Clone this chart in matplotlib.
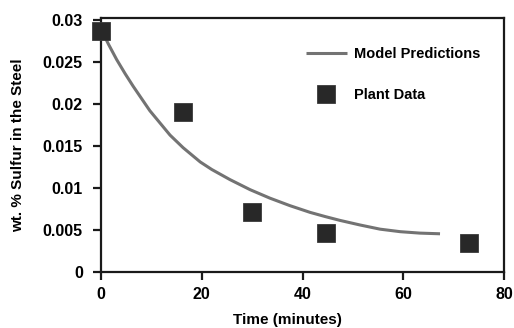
import matplotlib
matplotlib.use("Agg")
import matplotlib.pyplot as plt

# Plant data
plant_t = [0, 16.2, 29.9, 44.7, 73.0]
plant_s = [0.0287, 0.0191, 0.0071, 0.0046, 0.0034]

# Model prediction curve
model_t = [0, 1.5, 3.1, 4.8, 6.4, 9.7, 13.7, 16.3, 19.7, 22.0, 25.6, 29.6, 33.5, 37.5,
           41.5, 44.5, 47.4, 51.4, 55.4, 59.4, 63.3, 67.3]
model_s = [0.0289, 0.0271, 0.0253, 0.0236, 0.0221, 0.0192, 0.0163, 0.0148, 0.0131, 0.0122,
           0.0110, 0.0098, 0.0088, 0.0079, 0.0071, 0.0066, 0.00615, 0.0056, 0.0051, 0.0048,
           0.00463, 0.00455]

x_ticks = [0, 20, 40, 60, 80]
y_ticks = [0, 0.005, 0.01, 0.015, 0.02, 0.025, 0.03]
y_ticklabels = ["0", "0.005", "0.01", "0.015", "0.02", "0.025", "0.03"]

plt.rcParams['font.family'] = ['Liberation Sans', 'DejaVu Sans']
plt.rcParams['font.weight'] = 'bold'

fig = plt.figure(figsize=(5.14, 3.28), dpi=100)
ax = fig.add_axes([101/514, 1 - 272/328, 403/514, 254/328])

ax.plot(model_t, model_s, color='#737373', lw=2.2, label='Model Predictions',
        solid_capstyle='butt', solid_joinstyle='round')
ax.plot(plant_t, plant_s, ls='none', marker='s', ms=12.5, color='#282828', mec='#3a3a3a', mew=0.6,
        label='Plant Data', clip_on=False, zorder=5)

ax.set_xlim(0, 80)
ax.set_ylim(0, 0.03024)
ax.set_xticks(x_ticks)
ax.set_xticklabels([str(v) for v in x_ticks])
ax.set_yticks(y_ticks)
ax.set_yticklabels(y_ticklabels)

for s in ax.spines.values():
    s.set_linewidth(1.6)
    s.set_color('#1a1a1a')
ax.tick_params(direction='out', length=6, width=1.6, color='#1a1a1a', labelsize=11.5)
ax.tick_params(axis='x', pad=5)
ax.tick_params(axis='y', pad=7)

ax.set_xlabel('Time (minutes)', fontsize=11, fontweight='bold')
ax.xaxis.set_label_coords((287 - 101) / 403, (272 - 313) / 254)
ax.set_ylabel('wt. % Sulfur in the Steel', fontsize=11, fontweight='bold', labelpad=13)

leg = ax.legend(loc='upper left', bbox_to_anchor=(306/514, 1 - 47/328), bbox_transform=fig.transFigure,
                frameon=False, fontsize=10.5, handlelength=2.8, handletextpad=0.5, labelspacing=1.85,
                borderpad=0, borderaxespad=0, numpoints=1)

fig.savefig('out.png', dpi=100)
